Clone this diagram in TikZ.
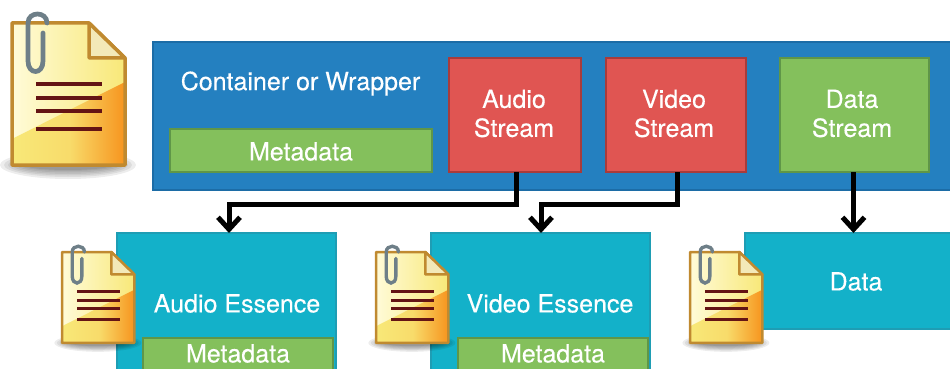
\documentclass[tikz,border=0pt]{standalone}
\usepackage{fontspec}
\setmainfont[FakeBold=0.25]{TeX Gyre Heros}
\usetikzlibrary{arrows.meta,shadings}
\definecolor{wrapblue}{HTML}{2480C0}
\definecolor{wrapedge}{HTML}{1C6CA6}
\definecolor{redfill}{HTML}{E05552}
\definecolor{rededge}{HTML}{A83B3B}
\definecolor{greenfill}{HTML}{84C05C}
\definecolor{greenedge}{HTML}{5F9648}
\definecolor{tealfill}{HTML}{13B1C9}
\definecolor{tealedge}{HTML}{1E9DB4}
\definecolor{docedge}{HTML}{C08A30}
\definecolor{docpale}{HTML}{FFFBD8}
\definecolor{docyellow}{HTML}{F8E878}
\definecolor{docorange}{HTML}{F7941E}
\definecolor{docfold}{HTML}{F3E9B8}
\definecolor{docline}{HTML}{641414}
\definecolor{clipgrey}{HTML}{6E7F88}
\tikzset{
  x=1pt,y=-1pt,
  box/.style={anchor=north west,inner sep=0pt,outer sep=0pt},
  wrapper/.style={box,fill=wrapblue,draw=wrapedge,line width=2.5pt},
  redbox/.style={box,fill=redfill,draw=rededge,line width=2.5pt},
  greenbox/.style={box,fill=greenfill,draw=greenedge,line width=2.5pt},
  tealbox/.style={box,fill=tealfill,draw=tealedge,line width=1.5pt},
  label/.style={inner sep=0pt,text=white,align=center,font=\fontsize{25}{29}\selectfont},
  flow/.style={draw=black,line width=5pt,line join=miter,-{Straight Barb[length=12pt,width=22pt,line width=5pt]}},
  pics/docicon/.style={code={
    \foreach \rx/\ry in {68/14,64/12,60/10.5,56/9,52/7.5,48/6,44/5}
      \fill[black,opacity=.07] (56,142) ellipse [x radius=\rx,y radius=\ry];
    \path[left color=docpale,right color=docyellow] (0,0) -- (77,0) -- (113,35) -- (113,142) -- (0,142) -- cycle;
    \path[left color=docyellow,right color=docorange,middle color=docyellow!85!docorange] (2,115) -- (113,59) -- (113,142) -- (2,142) -- cycle;
    \draw[docedge,line width=#1,line join=round] (0,0) -- (77,0) -- (113,35) -- (113,142) -- (0,142) -- cycle;
    \draw[docedge,fill=docfold,line width=#1,line join=round] (77,0) -- (113,35) -- (77,35) -- cycle;
    \foreach \yy in {61,75,88,106} \draw[docline,line width=1.2*#1] (24,\yy) -- (90,\yy);
    \draw[clipgrey,line width=1.35*#1,line cap=round] (35,0) .. controls (35,-12) and (16,-12) .. (16,0) -- (16,38)
      .. controls (16,52) and (31,52) .. (31,38) -- (31,10);
  }}
}
\begin{document}
\begin{tikzpicture}
\useasboundingbox (0,0) rectangle (950,369);
\clip (0,0) rectangle (950,369);
\pic (bigdoc) at (12,23) {docicon=3.5pt};

\node[wrapper,minimum width=830pt,minimum height=148pt] (wrap) at (153,42) {};
\node[label] (wraplabel) at (300.5,83.5) {Container or Wrapper};
\node[greenbox,minimum width=262pt,minimum height=43pt] (wrapmeta) at (170,129) {};
\node[label] (wrapmetalabel) at (301,151.5) {Metadata};
\node[redbox,minimum width=132pt,minimum height=114pt] (astream) at (449,58) {};
\node[redbox,minimum width=140pt,minimum height=114pt] (vstream) at (606,58) {};
\node[greenbox,minimum width=149pt,minimum height=114pt] (dstream) at (780,58) {};
\node[label] (astreamlabel) at (514,113.5) {Audio\\Stream};
\node[label] (vstreamlabel) at (674,113.5) {Video\\Stream};
\node[label] (dstreamlabel) at (852,113.5) {Data\\Stream};

\node[tealbox,minimum width=219pt,minimum height=170pt] (aess) at (117,233) {};
\node[tealbox,minimum width=219pt,minimum height=170pt] (vess) at (431,233) {};
\node[tealbox,minimum width=240pt,minimum height=96pt] (dess) at (745,233) {};
\node[label] (aesslabel) at (237,303.5) {Audio Essence};
\node[label] (vesslabel) at (550,303.5) {Video Essence};
\node[label] (dlabel) at (856,281.5) {Data};
\node[greenbox,minimum width=190pt,minimum height=50pt,line width=2pt] (ameta) at (143,338) {};
\node[greenbox,minimum width=190pt,minimum height=50pt,line width=2pt] (vmeta) at (458,338) {};
\node[label] (ametalabel) at (238,353.5) {Metadata};
\node[label] (vmetalabel) at (553,353.5) {Metadata};

\pic[scale=.64] (adoc) at (62,252) {docicon=2.5pt};
\pic[scale=.64] (vdoc) at (376,252) {docicon=2.5pt};
\pic[scale=.64] (ddoc) at (690,252) {docicon=2.5pt};

\coordinate (abend) at (229,204);
\coordinate (vbend) at (541,204);
\draw[flow] ([xshift=1pt]astream.south) |- (abend) -- (abend |- aess.north);
\draw[flow] ([xshift=1pt]vstream.south) |- (vbend) -- (vbend |- vess.north);
\draw[flow] ([xshift=-1pt]dstream.south) -- ([xshift=-1pt]dstream.south |- dess.north);
\end{tikzpicture}
\end{document}
